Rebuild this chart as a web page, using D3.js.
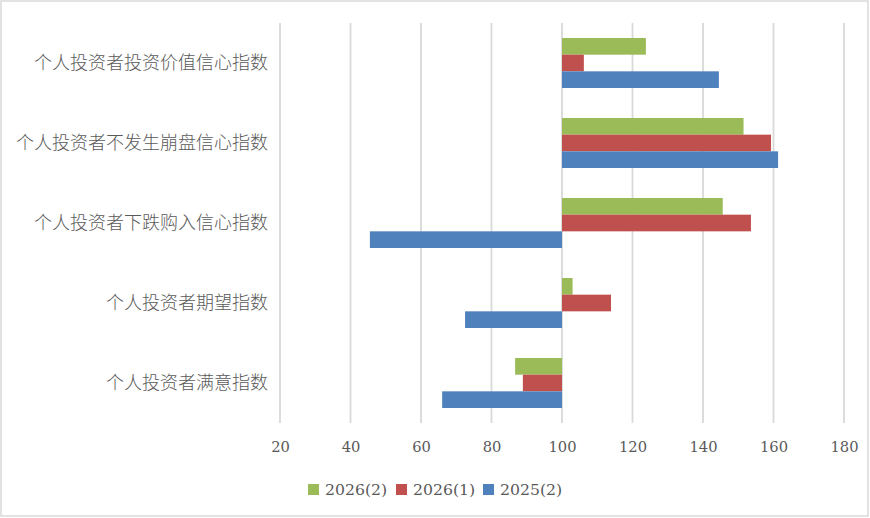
<!DOCTYPE html>
<html><head><meta charset="utf-8">
<script src="https://cdn.jsdelivr.net/npm/d3@7"></script>
<style>html,body{margin:0;padding:0;background:#fff;}svg{display:block;}</style>
</head><body>
<svg id="c" width="870" height="518"></svg>
<script>
const categories = ["个人投资者投资价值信心指数","个人投资者不发生崩盘信心指数","个人投资者下跌购入信心指数","个人投资者期望指数","个人投资者满意指数"];
const seriesNames = ["2026(2)","2026(1)","2025(2)"];
const colors = ["#9bbb59","#c0504d","#4f81bd"];
const s2026_2 = [123.8, 151.5, 145.6, 103.0, 86.7];
const s2026_1 = [106.2, 159.3, 153.6, 113.9, 88.9];
const s2025_2 = [144.5, 161.3, 45.5, 72.5, 66.0];
const tickValues = [20,40,60,80,100,120,140,160,180];
const baseline = 100;

const seriesVals = [s2026_2, s2026_1, s2025_2];
const svg = d3.select("#c");
svg.append("rect").attr("x",1).attr("y",1).attr("width",867).attr("height",515)
  .attr("fill","#fff").attr("stroke","#d9d9d9").attr("stroke-width",1.5);

const x = d3.scaleLinear().domain([20,180]).range([280,844]);
const y = d3.scaleBand().domain(categories).range([23,423]).paddingInner(0.375).paddingOuter(0.1875);
const ys = d3.scaleBand().domain(seriesNames).range([0,y.bandwidth()]);

// gridlines
svg.append("g").selectAll("line").data(tickValues).join("line")
  .attr("x1",d=>x(d)).attr("x2",d=>x(d)).attr("y1",23).attr("y2",423)
  .attr("stroke","#d9d9d9").attr("stroke-width",1.8);

// bars
seriesNames.forEach((s,i)=>{
  svg.append("g").selectAll("rect").data(categories).join("rect")
    .attr("x",(c,j)=>Math.min(x(seriesVals[i][j]),x(baseline)))
    .attr("width",(c,j)=>Math.abs(x(seriesVals[i][j])-x(baseline)))
    .attr("y",c=>y(c)+ys(s))
    .attr("height",ys.bandwidth())
    .attr("fill",colors[i]);
});

// x axis labels
const xa = svg.append("g").attr("transform","translate(0,423)")
  .call(d3.axisBottom(x).tickValues(tickValues).tickSize(0).tickPadding(0));
xa.select(".domain").remove();
xa.selectAll("text").attr("dy",null).attr("y",29)
  .attr("font-family","'DejaVu Serif',serif").attr("font-size",14.7).attr("fill","#595959");

// y axis labels
const ya = svg.append("g").attr("transform","translate(280,0)")
  .call(d3.axisLeft(y).tickSize(0).tickPadding(12));
ya.select(".domain").remove();
ya.selectAll("text").attr("font-family","'Noto Sans CJK SC',sans-serif").attr("font-size",18).attr("fill","#595959").attr("font-weight",300);

// legend
const legX = [308, 396, 483];
const lg = svg.append("g");
seriesNames.forEach((s,i)=>{
  lg.append("rect").attr("x",legX[i]).attr("y",484).attr("width",11).attr("height",11).attr("fill",colors[i]);
  lg.append("text").attr("x",legX[i]+17).attr("y",495).text(s)
    .attr("font-family","'DejaVu Serif',serif").attr("font-size",15.7).attr("fill","#595959");
});
</script>
</body></html>
